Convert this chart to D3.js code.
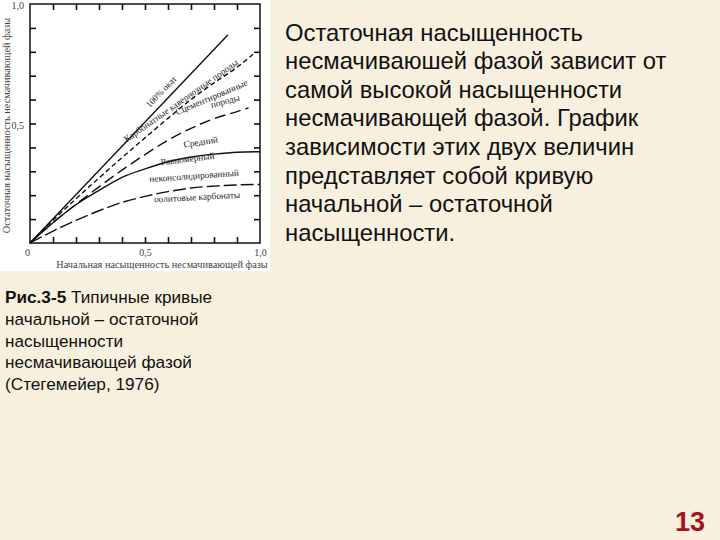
<!DOCTYPE html>
<html><head><meta charset="utf-8">
<script src="https://cdnjs.cloudflare.com/ajax/libs/d3/7.8.5/d3.min.js"></script>
<style>
html,body{margin:0;padding:0;background:#f8f0de;}
svg{display:block;}
</style></head>
<body>
<script>
// ---- data ----
const xGrid = [0,0.1,0.2,0.3,0.4,0.5,0.6,0.7,0.8,0.9,1.0];
const curveNames = ["100% окат","Карбонатные кавернозные породы","Сцементированные породы","Средний","Равномерный неконсолидированный / оолитовые карбонаты"];
const curve100 = [[0,0],[0.86,0.87]];
const curveVug = [[0,0],[0.1,0.095],[0.2,0.185],[0.3,0.272],[0.4,0.357],[0.5,0.44],[0.6,0.522],[0.7,0.6],[0.8,0.67],[0.9,0.735],[0.97,0.79]];
const curveCem = [[0,0],[0.1,0.085],[0.2,0.162],[0.3,0.235],[0.4,0.305],[0.5,0.37],[0.6,0.43],[0.7,0.48],[0.8,0.52],[0.9,0.55],[0.95,0.565]];
const curveMid = xGrid.map((x,i)=>[x,[0,0.085,0.16,0.22,0.275,0.31,0.34,0.36,0.372,0.38,0.382][i]]);
const curveUnc = xGrid.map((x,i)=>[x,[0,0.05,0.095,0.135,0.17,0.195,0.215,0.23,0.238,0.243,0.245][i]]);
const curveStyles = ["none","5,3","11,5","none","13,4"];
const tickMajor = [0,0.5,1.0];
const tickMinor = [0.1,0.2,0.3,0.4,0.5,0.6,0.7,0.8,0.9];
const yTitle = "Остаточная насыщенность несмачивающей фазы";
const xTitle = "Начальная насыщенность несмачивающей фазы";
const bodyLines = ["Остаточная насыщенность","несмачиваюшей фазой зависит от","самой высокой насыщенности","несмачивающей фазой. График","зависимости этих двух величин","представляет собой кривую","начальной – остаточной","насыщенности."];
const captionLines = ["начальной – остаточной","насыщенности","несмачивающей фазой","(Стегемейер, 1976)"];
const pageNum = "13";

const W=720,H=540;
const svg = d3.select("body").append("svg").attr("width",W).attr("height",H);
svg.append("rect").attr("width",W).attr("height",H).attr("fill","#f8f0de");
svg.append("rect").attr("x",0).attr("y",0).attr("width",270).attr("height",271).attr("fill","#ffffff");

const x = d3.scaleLinear().domain([0,1]).range([30,260]);
const y = d3.scaleLinear().domain([0,1]).range([243,4]);
const g = svg.append("g");
const fmt = d => d===0 ? "0" : d3.format(".1f")(d).replace(".",",");

// inward ticks on all sides
const tk = 6;
g.append("g").attr("transform",`translate(0,${y(0)})`).call(d3.axisBottom(x).tickValues(tickMinor).tickSize(-tk).tickFormat(""));
g.append("g").attr("transform",`translate(0,${y(1)})`).call(d3.axisTop(x).tickValues(tickMinor).tickSize(-tk).tickFormat(""));
g.append("g").attr("transform",`translate(${x(0)},0)`).call(d3.axisLeft(y).tickValues(tickMinor).tickSize(-tk).tickFormat(""));
g.append("g").attr("transform",`translate(${x(1)},0)`).call(d3.axisRight(y).tickValues(tickMinor).tickSize(-tk).tickFormat(""));
g.selectAll(".domain").remove();
g.selectAll(".tick line").attr("stroke","#111").attr("stroke-width",1.6);
// frame
g.append("rect").attr("x",x(0)).attr("y",y(1)).attr("width",x(1)-x(0)).attr("height",y(0)-y(1))
  .attr("fill","none").attr("stroke","#111").attr("stroke-width",1.5);

// tick labels
const lbl = {"font-family":"Liberation Serif, Times New Roman, serif","font-size":"10px","fill":"#444"};
const xl = g.append("g").attr("transform",`translate(0,${y(0)+3})`).call(d3.axisBottom(x).tickValues(tickMajor).tickSize(0).tickFormat(fmt));
const yl = g.append("g").attr("transform",`translate(${x(0)-3},0)`).call(d3.axisLeft(y).tickValues([0.5,1.0]).tickSize(0).tickFormat(fmt));
[xl,yl].forEach(a=>{a.select(".domain").remove();a.selectAll("text").attr("font-family",lbl["font-family"]).attr("font-size",lbl["font-size"]).attr("fill",lbl.fill);});
xl.selectAll("text").filter(d=>d===0).attr("dx",-3);
yl.selectAll("text").attr("dy","0.45em");

// axis titles
g.append("text").attr("x",x(0.5)+17).attr("y",268).attr("text-anchor","middle")
 .attr("font-family",lbl["font-family"]).attr("font-size","10.3px").attr("fill","#444").text(xTitle);
g.append("text").attr("transform",`translate(10,${y(0.5)+2}) rotate(-90)`).attr("text-anchor","middle")
 .attr("font-family",lbl["font-family"]).attr("font-size","10.3px").attr("fill","#444").text(yTitle);

// curves
const line = d3.line().x(d=>x(d[0])).y(d=>y(d[1])).curve(d3.curveMonotoneX);
[curve100,curveVug,curveCem,curveMid,curveUnc].forEach((c,i)=>{
  g.append("path").attr("d",line(c)).attr("fill","none").attr("stroke","#111")
   .attr("stroke-width",1.4).attr("stroke-dasharray",curveStyles[i]==="none"?null:curveStyles[i]);
});

// curve labels
function clabel(t,dx,dy,ang,size){
  g.append("text").attr("transform",`translate(${x(dx)},${y(dy)}) rotate(${ang})`)
   .attr("font-family",lbl["font-family"]).attr("font-size",(size||9)+"px").attr("fill","#222").text(t);
}
clabel("100% окат",0.52,0.565,-46);
clabel("Карбонатные кавернозные породы",0.42,0.42,-35,9.3);
clabel("Сцементированные",0.64,0.535,-23,9.3);
clabel("породы",0.79,0.565,-15,9.3);
clabel("Средний",0.67,0.40,-8,9.3);
clabel("Равномерный",0.57,0.325,-7,9.3);
clabel("неконсолидированный",0.52,0.255,-4,9.3);
clabel("оолитовые карбонаты",0.54,0.17,-3,9.3);

// right body text
const bt = svg.append("text").attr("font-family","Liberation Sans, Arial, sans-serif").attr("font-size","23.8px").attr("fill","#111");
bodyLines.forEach((t,i)=>bt.append("tspan").attr("x",285).attr("y",40.5+i*28.6).text(t));

// caption
const cap = svg.append("text").attr("font-family","Liberation Sans, Arial, sans-serif").attr("font-size","17.2px").attr("fill","#111");
const l0 = cap.append("tspan").attr("x",5).attr("y",303);
l0.append("tspan").attr("font-weight","bold").text("Рис.3-5");
l0.append("tspan").text(" Типичные кривые");
captionLines.forEach((t,i)=>cap.append("tspan").attr("x",5).attr("y",324.8+i*21.8).text(t));

// page number
svg.append("text").attr("x",705).attr("y",531).attr("text-anchor","end")
 .attr("font-family","Liberation Sans, Arial, sans-serif").attr("font-weight","bold").attr("font-size","27px").attr("fill","#a3141c").text(pageNum);
</script>
</body></html>
